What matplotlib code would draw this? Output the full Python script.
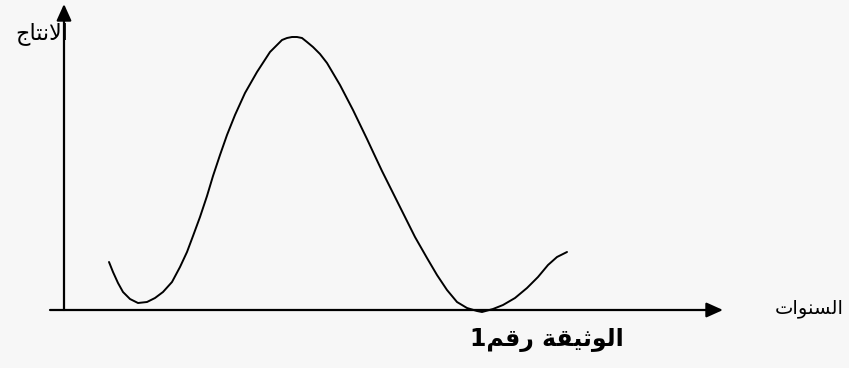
import matplotlib
matplotlib.use('Agg')
import matplotlib.pyplot as plt

# curve: x = distance from the y axis, y = height above the x axis
x_vals = [45, 49, 54, 59, 66, 74, 83, 91, 99, 108, 116, 123, 129, 136, 143, 149,
          156, 163, 171, 181, 193, 206, 213, 218, 223, 228, 233, 238, 243, 249,
          256, 263, 276, 289, 303, 310, 318, 329, 339, 351, 363, 373, 383, 393,
          403, 413, 418, 429, 439, 451, 463, 474, 484, 493, 503]
y_vals = [48, 38, 27, 18, 11, 7, 8, 12, 18, 28, 43, 58, 74, 93, 114, 134,
          155, 175, 195, 217, 238, 258, 265, 270, 272, 273, 273, 272, 268, 263,
          256, 247, 225, 200, 171, 156, 139, 117, 97, 73, 52, 35, 20, 8,
          2, -1, -2, 1, 5, 12, 22, 33, 45, 53, 58]

y_label = 'الانتاج'
x_label = 'السنوات'
caption = 'الوثيقة رقم1'

# matplotlib does no Arabic shaping, so pick the joined forms by hand
ARABIC_FORMS = {
    'ا': ('\uFE8D', '\uFE8E'),
    'و': ('\uFEED', '\uFEEE'),
    'ر': ('\uFEAD', '\uFEAE'),
    'ة': ('\uFE93', '\uFE94'),
    'ل': ('\uFEDD', '\uFEDE', '\uFEDF', '\uFEE0'),
    'ن': ('\uFEE5', '\uFEE6', '\uFEE7', '\uFEE8'),
    'ت': ('\uFE95', '\uFE96', '\uFE97', '\uFE98'),
    'ج': ('\uFE9D', '\uFE9E', '\uFE9F', '\uFEA0'),
    'س': ('\uFEB1', '\uFEB2', '\uFEB3', '\uFEB4'),
    'ث': ('\uFE99', '\uFE9A', '\uFE9B', '\uFE9C'),
    'ي': ('\uFEF1', '\uFEF2', '\uFEF3', '\uFEF4'),
    'ق': ('\uFED5', '\uFED6', '\uFED7', '\uFED8'),
    'م': ('\uFEE1', '\uFEE2', '\uFEE3', '\uFEE4'),
}
LAM_ALEF = ('\uFEFB', '\uFEFC')


def shape(text):
    chars = []
    i = 0
    while i < len(text):
        if text[i] == 'ل' and i + 1 < len(text) and text[i + 1] == 'ا':
            chars.append('لا')
            i += 2
        else:
            chars.append(text[i])
            i += 1

    def forms(c):
        return LAM_ALEF if c == 'لا' else ARABIC_FORMS.get(c)

    out = []
    for k, c in enumerate(chars):
        f = forms(c)
        if f is None:
            out.append(c)
            continue
        prev = forms(chars[k - 1]) if k > 0 else None
        nxt = forms(chars[k + 1]) if k + 1 < len(chars) else None
        join_prev = prev is not None and len(prev) == 4
        join_next = len(f) == 4 and nxt is not None
        idx = {(False, False): 0, (True, False): 1,
               (False, True): 2, (True, True): 3}[(join_prev, join_next)]
        out.append(f[idx])
    return ''.join(reversed(out))


bg = '#f7f7f7'
fig = plt.figure(figsize=(8.49, 3.68), dpi=100, facecolor=bg)
ax = fig.add_axes([0, 0, 1, 1])
ax.set_facecolor(bg)
ax.set_xlim(-64, 785)
ax.set_ylim(-58, 310)
ax.axis('off')

arrow = dict(arrowstyle='-|>,head_length=1.0,head_width=0.45', color='black',
             lw=1.6, shrinkA=0, shrinkB=0)
ax.annotate('', xy=(0, 306), xytext=(0, 0), arrowprops=arrow)
ax.annotate('', xy=(659, 0), xytext=(-14, 0), arrowprops=arrow)

ax.plot(x_vals, y_vals, color='black', lw=1.4, solid_capstyle='round',
        solid_joinstyle='round')

ax.text(4, 276, shape(y_label), ha='right', va='center', fontsize=16,
        family='DejaVu Sans')
ax.text(711, 1, shape(x_label), ha='left', va='center', fontsize=14,
        family='DejaVu Sans')
ax.text(483, -30, shape(caption), ha='center', va='center', fontsize=17,
        fontweight='bold', family='DejaVu Sans')

fig.savefig('out.png', dpi=100, facecolor=bg)
